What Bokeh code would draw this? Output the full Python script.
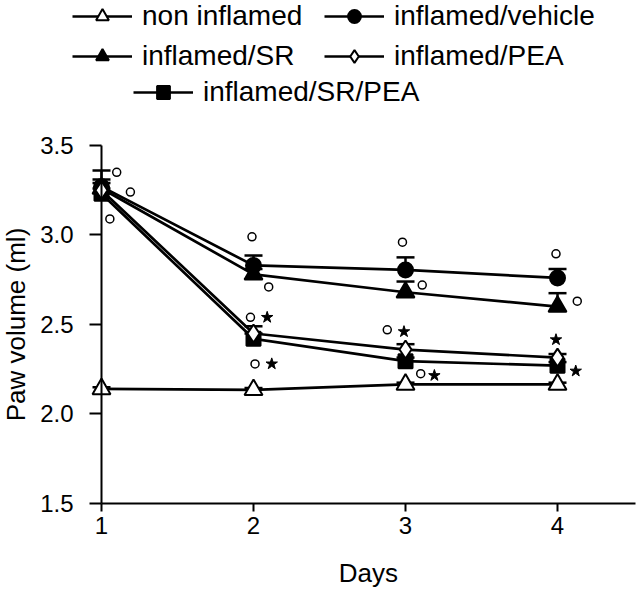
from bokeh.plotting import figure
from bokeh.models import (Range1d, Legend, LegendItem, Whisker, ColumnDataSource,
                          TeeHead, FixedTicker, PrintfTickFormatter, Label)
from bokeh.embed import file_html
from bokeh.resources import INLINE

# ---- data ----
days = [1, 2, 3, 4]
day_ticks = [1, 2, 3, 4]
vol_ticks = [1.5, 2.0, 2.5, 3.0, 3.5]

non_inflamed = [2.14, 2.135, 2.165, 2.165]
non_inflamed_err = [0.01, 0.01, 0.01, 0.01]
vehicle = [3.27, 2.83, 2.805, 2.76]
vehicle_err = [0.09, 0.055, 0.07, 0.05]
sr = [3.26, 2.78, 2.68, 2.60]
sr_err = [0.05, 0.03, 0.06, 0.075]
pea = [3.25, 2.45, 2.36, 2.315]
pea_err = [0.04, 0.04, 0.03, 0.02]
sr_pea = [3.23, 2.42, 2.295, 2.27]
sr_pea_err = [0.03, 0.03, 0.02, 0.02]

# significance marks (open circle = vs non inflamed, star = vs vehicle)
circle_x = [1.10, 1.19, 1.055, 1.99, 2.10, 1.98, 2.01, 2.98, 3.11, 2.88, 3.10, 3.99, 4.13]
circle_y = [3.35, 3.24, 3.09, 2.99, 2.71, 2.54, 2.28, 2.96, 2.72, 2.47, 2.225, 2.895, 2.63]
star_x = [2.09, 2.12, 2.99, 3.19, 3.99, 4.12]
star_y = [2.54, 2.28, 2.46, 2.215, 2.415, 2.24]

X_MIN, X_MAX = 1, 4.51
Y_MIN, Y_MAX = 1.5, 3.5

FONT = "Liberation Sans"

# frame spans the whole canvas; axes are pinned at x=1 / y=1.5 and limited with bounds
p = figure(width=640, height=593, output_backend="svg", toolbar_location=None,
           x_range=Range1d(0.3355, 4.546), y_range=Range1d(0.9972, 4.310),
           min_border_left=0, min_border_right=0, min_border_top=0,
           min_border_bottom=0)
p.outline_line_color = None
p.xgrid.visible = False
p.ygrid.visible = False
p.background_fill_color = "white"

series = [
    ("non inflamed", non_inflamed, non_inflamed_err, "triangle", 18, "white"),
    ("inflamed/vehicle", vehicle, vehicle_err, "circle", 15, "black"),
    ("inflamed/SR", sr, sr_err, "triangle", 18, "black"),
    ("inflamed/SR/PEA", sr_pea, sr_pea_err, "square", 14, "black"),
    ("inflamed/PEA", pea, pea_err, "diamond", 18, "white"),
]

items = {}
for label, vals, errs, marker, size, fill in series:
    src = ColumnDataSource(dict(x=days, y=vals,
                                up=[v + e for v, e in zip(vals, errs)]))
    w = Whisker(base="x", upper="up", lower="y", source=src, dimension="height",
                line_color="black", line_width=2.5,
                upper_head=TeeHead(size=18, line_color="black", line_width=2.5),
                lower_head=None)
    p.add_layout(w)
    lr = p.line("x", "y", source=src, line_color="black", line_width=2.7)
    sr_ = p.scatter("x", "y", source=src, marker=marker, size=size,
                    fill_color=fill, line_color="black", line_width=2)
    items[label] = LegendItem(label=label, renderers=[lr, sr_])

p.scatter(circle_x, circle_y, marker="circle", size=8, fill_color="white",
          line_color="black", line_width=1.5)
p.scatter(star_x, star_y, marker="star", size=12, fill_color="black",
          line_color="black", line_width=1)

def style_legend(lg):
    lg.border_line_color = None
    lg.background_fill_alpha = 0
    lg.padding = 0
    lg.margin = 0
    lg.spacing = 8
    lg.glyph_width = 60
    lg.glyph_height = 32
    lg.label_height = 32
    lg.label_width = 174
    lg.label_standoff = 10
    lg.label_text_font_size = "28px"
    lg.label_text_font = FONT
    lg.label_text_color = "black"

leg1 = Legend(items=[items["non inflamed"], items["inflamed/vehicle"],
                     items["inflamed/SR"], items["inflamed/PEA"]],
              orientation="horizontal", ncols=2, location=(72, 521))
style_legend(leg1)
leg2 = Legend(items=[items["inflamed/SR/PEA"]], location=(133, 485))
style_legend(leg2)
p.add_layout(leg1)
p.add_layout(leg2)

# axes
for ax in (p.xaxis[0], p.yaxis[0]):
    ax.axis_line_width = 2
    ax.major_tick_line_width = 2
    ax.major_tick_in = 0
    ax.minor_tick_line_color = None
    ax.major_label_text_font = FONT
    ax.major_label_text_font_size = "24px"
    ax.major_label_text_color = "black"
    ax.axis_label_text_font = FONT
    ax.axis_label_text_font_size = "26px"
    ax.axis_label_text_font_style = "normal"
    ax.axis_label_text_color = "black"

p.xaxis.ticker = FixedTicker(ticks=day_ticks)
p.xaxis.fixed_location = Y_MIN
p.xaxis.bounds = (X_MIN, X_MAX)
p.xaxis.major_tick_out = 8
p.xaxis.major_label_standoff = 6

p.add_layout(Label(x=(X_MIN + X_MAX) / 2, y=1.1145, text="Days",
                   text_font=FONT, text_font_size="26px", text_color="black",
                   text_align="center", text_baseline="middle"))

p.yaxis.ticker = FixedTicker(ticks=vol_ticks)
p.yaxis.formatter = PrintfTickFormatter(format="%.1f")
p.yaxis.fixed_location = X_MIN
p.yaxis.bounds = (Y_MIN, Y_MAX)
p.yaxis.axis_label = "Paw volume (ml)"
p.yaxis.major_tick_out = 12
p.yaxis.major_label_standoff = 16
p.yaxis.axis_label_standoff = 6

open("out.html", "w").write(file_html(p, INLINE))
